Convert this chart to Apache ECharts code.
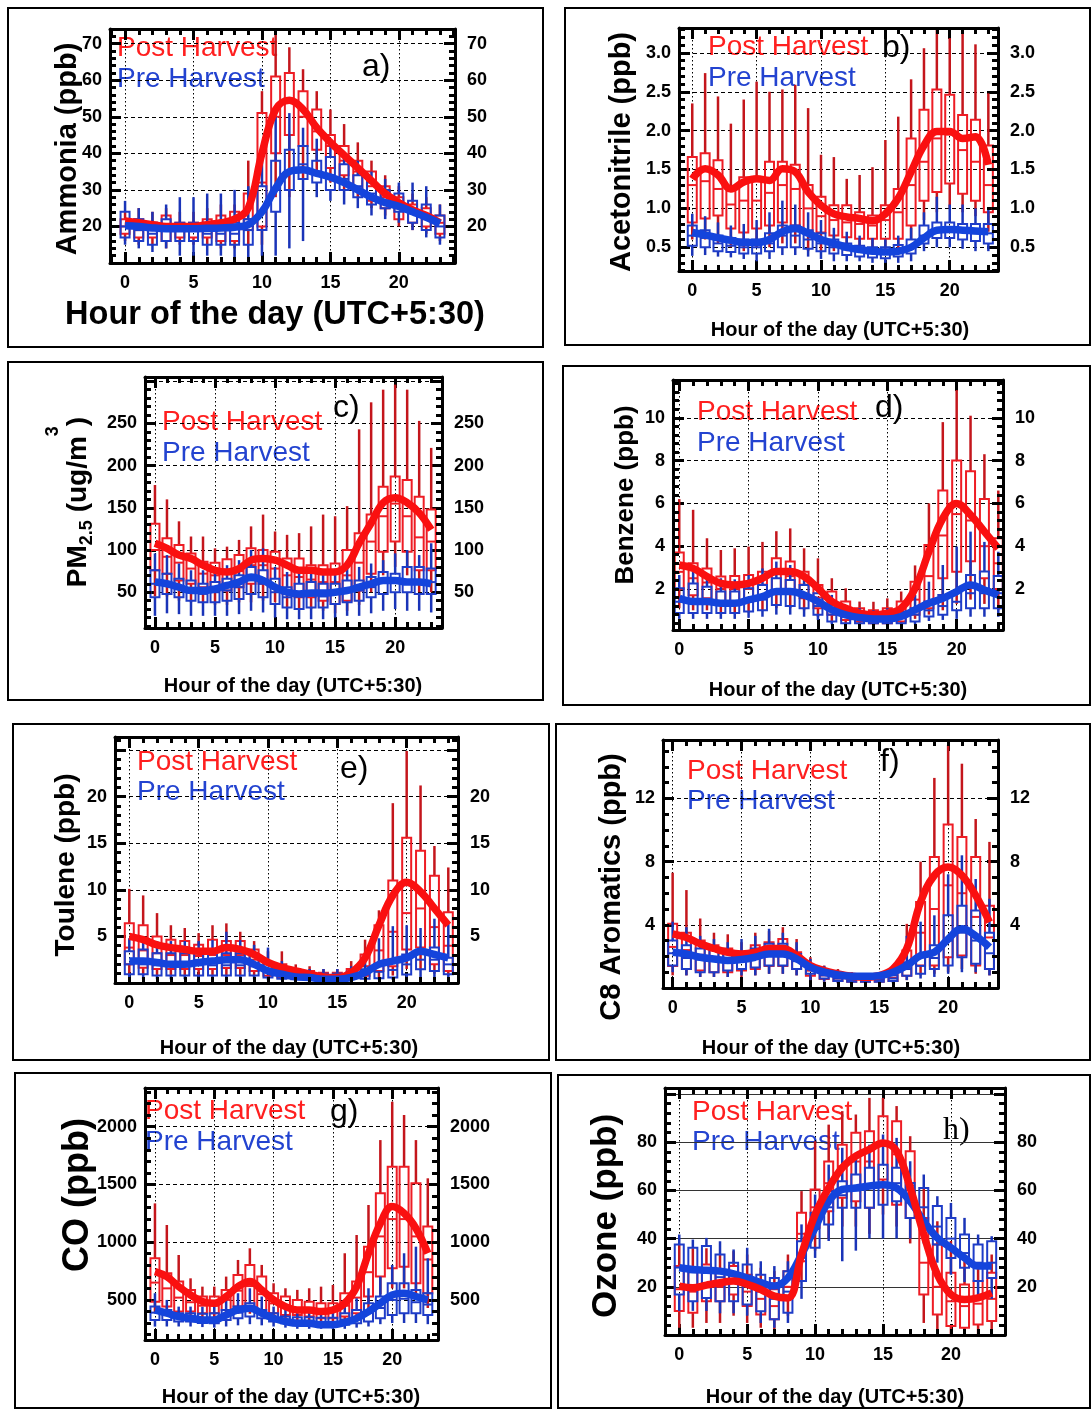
<!DOCTYPE html>
<html>
<head>
<meta charset="utf-8">
<script src="https://cdn.jsdelivr.net/npm/echarts@6/dist/echarts.min.js"></script>
<style>
  html, body { margin: 0; padding: 0; background: #fff; }
  #chart { width: 1091px; height: 1409px; }
</style>
</head>
<body>
<div id="chart"></div>
<script>
// ---- data: hourly box stats [low whisker, q1, median, q3, high whisker] and hourly means ----
let hours = [0,1,2,3,4,5,6,7,8,9,10,11,12,13,14,15,16,17,18,19,20,21,22,23];
let xTickLabels = [0,5,10,15,20];

let ammoniaTicks = [20,30,40,50,60,70];
let ammoniaPost = [[16,18,20,22,24],[15,17,19,22,25],[15,17,19,21,24],[14,16,19,23,25],[15,17,19,21,24],[15,17,19,21,24],
  [15,17,19,22,25],[14,16,19,23,26],[14,16,20,24,26],[15,19,22,29,38],[15,20,32,51,57],[28,40,50,61,73],
  [28,45,54,62,69],[33,42,50,57,63],[34,41,46,52,57],[32,36,42,45,52],[30,34,38,42,48],[28,30,35,38,43],
  [25,27,31,35,38],[23,25,28,31,34],[20,22,25,28,31],[19,21,24,26,29],[18,20,22,25,28],[16,18,21,23,26]];
let ammoniaPostMean = [21.5,21,20.5,20,20,20,20.5,21,22,25,40,52,54.5,52,47,43,39.5,36,32.5,29,26.5,24.5,23,21];
let ammoniaPre = [[15,17,20,24,27],[14,16,19,22,25],[13,15,18,21,24],[14,16,19,22,26],[12,16,19,21,28],[12,16,19,21,28],
  [12,15,18,21,29],[12,15,18,21,29],[11,15,18,21,30],[10,15,19,22,31],[12,19,24,31,38],[12,24,30,38,50],
  [14,30,35,41,51],[16,33,37,42,47],[28,32,35,38,44],[27,30,34,39,42],[26,30,33,37,40],[25,28,31,34,38],
  [23,26,29,32,35],[22,25,27,30,33],[21,24,26,29,32],[19,21,24,27,32],[17,19,22,26,31],[15,17,20,23,26]];
let ammoniaPreMean = [20.2,20,19.6,19.4,19.4,19.4,19.5,19.6,19.8,20.5,24,30.5,35,35.5,34.5,33.5,32,30,28,26.5,25.5,24,22.5,20.8];

let acetoTicks = [0.5,1.0,1.5,2.0,2.5,3.0];
let acetoPost = [[0.6,0.82,1.3,1.66,2.35],[0.6,0.87,1.35,1.71,2.74],[0.55,0.91,1.25,1.62,2.44],[0.5,0.74,1.05,1.25,2.09],
  [0.45,0.69,1.1,1.4,2.4],[0.5,0.74,1.1,1.38,2.63],[0.5,0.78,1.2,1.6,2.5],[0.55,0.82,1.3,1.6,2.53],
  [0.55,0.78,1.25,1.56,2.59],[0.45,0.69,1.0,1.3,2.29],[0.45,0.69,0.9,1.15,1.69],[0.45,0.65,0.85,1.04,1.66],
  [0.45,0.63,0.82,1.04,1.38],[0.45,0.61,0.8,0.95,1.43],[0.45,0.61,0.78,0.91,1.53],[0.45,0.61,0.85,1.04,1.88],
  [0.45,0.61,0.95,1.25,2.18],[0.6,0.78,1.3,1.9,2.66],[0.85,1.1,1.6,2.27,3.06],[0.95,1.21,1.9,2.53,3.3],
  [1.0,1.32,1.95,2.46,3.19],[0.95,1.19,1.75,2.2,3.26],[0.9,1.1,1.6,2.14,3.11],[0.7,0.95,1.3,1.81,2.48]];
let acetoPostMean = [1.38,1.51,1.43,1.25,1.34,1.38,1.36,1.51,1.47,1.21,1.04,0.93,0.89,0.87,0.84,0.93,1.13,1.47,1.81,1.99,1.99,1.9,1.92,1.56];
let acetoPre = [[0.39,0.52,0.65,0.78,0.93],[0.4,0.5,0.62,0.72,0.9],[0.38,0.45,0.55,0.65,0.82],[0.37,0.44,0.52,0.62,0.78],
  [0.35,0.42,0.5,0.6,0.8],[0.32,0.42,0.5,0.6,0.85],[0.35,0.45,0.55,0.68,0.95],[0.4,0.5,0.65,0.78,1.1],
  [0.4,0.5,0.65,0.78,1.05],[0.38,0.48,0.6,0.72,0.95],[0.35,0.45,0.55,0.68,0.85],[0.32,0.42,0.5,0.6,0.75],
  [0.32,0.4,0.47,0.55,0.7],[0.32,0.38,0.45,0.52,0.65],[0.3,0.37,0.44,0.5,0.62],[0.3,0.36,0.43,0.5,0.6],
  [0.3,0.38,0.45,0.53,0.65],[0.32,0.42,0.5,0.6,0.75],[0.45,0.55,0.65,0.78,0.95],[0.5,0.62,0.72,0.82,1.15],
  [0.5,0.62,0.72,0.82,1.05],[0.48,0.6,0.7,0.8,1.05],[0.45,0.58,0.68,0.8,1.0],[0.45,0.55,0.68,0.8,0.98]];
let acetoPreMean = [0.69,0.66,0.62,0.59,0.56,0.56,0.6,0.7,0.74,0.68,0.6,0.55,0.5,0.47,0.45,0.44,0.45,0.5,0.62,0.72,0.73,0.72,0.71,0.7];

let pmTicks = [50,100,150,200,250];
let pmPost = [[45,76,100,131,177],[45,72,92,114,160],[40,64,85,106,134],[38,60,78,96,116],[38,56,72,86,116],[35,52,70,85,102],
  [35,52,72,89,104],[38,56,75,94,112],[38,60,82,102,128],[40,60,82,100,142],[38,56,78,98,122],[32,48,70,90,118],
  [30,44,68,90,120],[30,44,65,82,128],[28,40,62,82,142],[25,36,62,84,140],[28,40,70,100,152],[35,52,85,120,243],
  [50,72,110,142,275],[70,98,140,175,290],[80,110,155,187,296],[70,98,140,183,290],[50,76,115,163,253],[50,76,110,148,221]];
let pmPostMean = [108,102,94,90,82,76,74,78,88,90,88,82,76,76,74,74,82,108,132,156,162,156,144,124];
let pmPre = [[22,44,60,76,96],[25,48,58,72,94],[24,44,55,66,84],[22,40,50,64,76],[22,38,48,60,76],[22,38,50,62,80],
  [22,40,52,66,82],[24,42,56,70,88],[28,48,64,80,100],[26,44,60,76,102],[20,36,50,66,80],[18,32,44,56,74],
  [18,30,45,60,78],[18,32,46,62,80],[18,32,45,60,76],[20,36,48,60,78],[22,38,50,64,84],[22,40,52,64,80],
  [25,44,56,68,84],[28,48,62,74,88],[30,50,62,72,96],[28,50,64,80,100],[28,48,64,80,94],[26,48,62,78,108]];
let pmPreMean = [62,60,56,52,52,54,58,62,68,64,56,50,48,49,49,50,52,56,60,64,64,62,62,60];

let benzeneTicks = [2,4,6,8,10];
let benzenePost = [[1.1,2.0,2.8,3.7,6.2],[1.0,1.7,2.5,3.2,5.7],[1.0,1.56,2.3,2.96,4.37],[0.9,1.4,2.0,2.58,3.82],
  [0.9,1.4,2.0,2.6,3.9],[0.9,1.4,2.0,2.65,3.98],[1.0,1.56,2.2,2.8,4.2],[1.1,1.88,2.7,3.43,4.7],
  [1.1,1.88,2.6,3.28,4.83],[1.0,1.56,2.2,2.8,3.9],[0.7,1.1,1.6,2.19,3.43],[0.5,0.79,1.3,1.88,2.5],
  [0.4,0.55,0.9,1.41,2.03],[0.35,0.48,0.75,1.1,1.41],[0.3,0.4,0.7,1.0,1.4],[0.3,0.4,0.75,1.1,1.56],
  [0.35,0.48,0.9,1.41,1.88],[0.6,0.79,1.5,2.34,3.1],[0.8,1.1,2.6,4.05,6.0],[1.0,2.5,4.5,6.6,9.8],
  [1.3,2.8,5.5,8.0,11.3],[1.5,3.3,5.2,7.5,10.1],[1.3,2.5,4.0,6.2,8.3],[1.0,2.0,3.2,4.37,6.6]];
let benzenePostMean = [3.12,2.96,2.58,2.26,2.19,2.26,2.5,2.81,2.81,2.58,2.03,1.41,1.1,0.87,0.79,0.87,1.1,2.03,3.74,5.3,6.0,5.46,4.68,3.9];
let benzenePre = [[0.6,0.87,1.4,2.03,2.65],[0.6,0.87,1.5,2.26,2.96],[0.6,0.87,1.4,2.1,2.5],[0.6,0.87,1.3,1.88,2.5],
  [0.6,0.87,1.3,1.88,2.45],[0.65,0.95,1.4,2.03,2.65],[0.7,1.0,1.5,2.19,2.96],[0.8,1.25,1.8,2.5,3.28],
  [0.8,1.2,1.8,2.42,3.12],[0.7,1.1,1.6,2.19,2.65],[0.55,0.79,1.2,1.8,2.19],[0.35,0.48,0.8,1.25,1.72],
  [0.3,0.4,0.7,1.0,1.25],[0.3,0.4,0.65,0.94,1.1],[0.3,0.4,0.6,0.87,1.0],[0.3,0.4,0.6,0.87,1.1],
  [0.3,0.4,0.65,0.94,1.25],[0.35,0.48,0.8,1.1,1.72],[0.5,0.71,1.0,1.41,2.34],[0.55,0.79,1.2,1.72,3.12],
  [0.6,1.0,1.4,1.88,3.98],[0.7,1.1,1.8,2.65,4.68],[0.7,1.1,1.8,2.81,4.2],[0.7,1.1,1.8,2.6,3.74]];
let benzenePreMean = [1.56,1.41,1.41,1.33,1.33,1.49,1.64,1.88,1.88,1.72,1.41,1.02,0.79,0.66,0.6,0.6,0.71,1.02,1.33,1.56,1.88,2.19,1.95,1.72];

let tolueneTicks = [5,10,15,20];
let toluenePost = [[0.9,2.0,3.8,6.4,10.1],[0.9,1.65,3.5,6.2,9.4],[0.8,1.5,3.2,5.0,7.5],[0.8,1.5,3.0,4.65,6.2],
  [0.8,1.5,3.0,4.5,5.9],[0.8,1.5,2.9,4.1,5.35],[0.8,1.5,3.0,4.65,6.2],[0.8,1.6,3.0,4.5,6.4],
  [0.8,1.6,3.0,4.5,5.5],[0.7,1.3,2.5,3.6,4.5],[0.5,0.77,1.5,2.2,3.4],[0.4,0.6,1.3,2.0,3.4],
  [0.4,0.6,1.0,1.5,2.0],[0.3,0.5,0.9,1.3,1.8],[0.3,0.45,0.8,1.1,1.5],[0.3,0.45,0.8,1.1,1.5],
  [0.3,0.5,1.0,1.5,2.35],[0.4,0.77,1.8,3.06,4.65],[0.6,1.3,3.5,6.2,7.8],[0.8,1.8,5.5,11.0,19.3],
  [1.5,3.6,7.5,15.6,24.9],[1.5,3.8,8.0,14.2,21.2],[1.0,2.0,6.0,11.5,14.7],[0.8,1.3,4.0,7.6,12.4]];
let toluenePostMean = [5.0,4.65,4.1,3.8,3.6,3.4,3.4,3.8,3.6,3.06,2.2,1.65,1.3,0.94,0.66,0.59,1.12,2.7,6.2,9.4,10.8,9.8,8.0,6.2];
let toluenePre = [[0.4,0.94,2.0,3.4,4.8],[0.4,0.94,2.0,3.6,5.0],[0.4,0.8,1.9,3.2,4.5],[0.4,0.8,1.9,3.2,4.5],
  [0.4,0.8,1.9,3.2,4.5],[0.4,0.8,1.9,3.2,4.5],[0.4,0.8,1.9,3.2,4.6],[0.4,0.8,1.9,3.2,5.5],
  [0.4,0.8,1.9,3.2,4.6],[0.4,0.8,1.8,3.06,4.1],[0.3,0.59,1.3,2.0,3.8],[0.3,0.45,0.9,1.47,2.35],
  [0.25,0.4,0.7,1.0,1.5],[0.25,0.4,0.7,1.0,1.5],[0.25,0.4,0.7,1.0,1.5],[0.25,0.4,0.7,1.0,1.5],
  [0.3,0.45,0.8,1.2,1.8],[0.3,0.45,1.0,1.47,2.7],[0.35,0.5,1.2,2.0,4.8],[0.35,0.6,1.4,2.35,6.1],
  [0.4,0.9,2.0,3.06,6.2],[0.5,1.47,2.5,3.4,5.9],[0.5,1.3,2.5,3.8,6.9],[0.4,0.94,2.0,2.7,6.6]];
let toluenePreMean = [2.35,2.35,2.2,2.0,2.0,2.2,2.35,2.5,2.5,2.0,1.3,0.94,0.66,0.59,0.41,0.41,0.59,1.12,2.0,2.35,2.7,3.4,3.06,2.7];

let c8Ticks = [4,8,12];
let c8Post = [[0.8,1.4,2.6,4.06,7.3],[0.8,1.2,2.4,3.5,6.2],[0.7,1.1,2.1,3.0,4.4],[0.7,1.0,1.9,2.7,3.5],
  [0.7,1.0,1.8,2.5,3.4],[0.7,1.1,1.7,2.26,2.9],[0.8,1.2,2.0,2.7,3.5],[0.9,1.4,2.2,2.9,3.6],
  [0.9,1.4,2.3,3.1,3.85],[0.8,1.2,1.8,2.26,3.1],[0.5,0.78,1.1,1.42,1.95],[0.4,0.57,0.8,1.1,1.42],
  [0.3,0.45,0.6,0.85,1.2],[0.3,0.4,0.55,0.75,1.0],[0.3,0.4,0.5,0.7,0.9],[0.3,0.4,0.55,0.75,1.0],
  [0.35,0.45,0.65,0.9,1.3],[0.5,0.78,1.5,2.37,4.06],[0.8,1.42,3.5,5.44,8.0],[0.9,1.42,5.0,8.3,13.3],
  [1.0,1.95,6.5,10.35,15.4],[1.2,2.05,6.0,9.56,14.2],[0.9,1.42,4.5,8.3,10.7],[0.8,1.2,3.2,5.2,9.25]];
let c8PostMean = [3.43,3.2,2.8,2.5,2.26,2.16,2.26,2.5,2.5,2.05,1.42,1.1,0.89,0.74,0.68,0.78,1.2,2.5,5.44,7.13,7.66,7.13,5.86,4.17];
let c8Pre = [[1.0,1.42,2.2,3.0,4.2],[0.8,1.2,1.9,2.7,3.85],[0.7,1.0,1.8,2.5,3.3],[0.7,1.0,1.8,2.5,3.1],
  [0.7,1.1,1.7,2.26,2.9],[0.8,1.2,1.75,2.26,3.1],[0.8,1.3,1.9,2.5,3.3],[0.9,1.42,2.1,2.8,3.75],
  [0.9,1.42,2.1,2.8,3.5],[0.8,1.2,1.7,2.16,2.9],[0.5,0.9,1.2,1.42,1.84],[0.4,0.6,0.8,1.1,1.4],
  [0.3,0.45,0.6,0.8,1.1],[0.3,0.4,0.5,0.7,0.9],[0.3,0.4,0.5,0.7,0.9],[0.3,0.4,0.5,0.7,0.9],
  [0.3,0.45,0.6,0.8,1.1],[0.5,0.78,1.2,1.63,3.3],[0.6,0.9,1.4,1.95,4.2],[0.7,1.2,1.9,2.7,4.6],
  [0.9,1.42,3.0,4.6,7.2],[1.0,1.95,3.5,5.2,8.4],[1.0,1.53,3.0,4.9,6.9],[0.8,1.2,2.2,3.5,5.65]];
let c8PreMean = [2.26,2.16,1.95,1.84,1.74,1.8,1.95,2.16,2.16,1.84,1.31,1.0,0.83,0.74,0.74,0.78,1.0,1.42,2.05,2.26,3.1,3.75,3.3,2.58];

let coTicks = [500,1000,1500,2000];
let coPost = [[385,485,650,860,1336],[380,442,600,730,1149],[350,399,520,659,889],[350,399,480,587,687],
  [340,385,450,529,615],[340,385,450,529,615],[360,413,500,587,702],[380,442,580,716,846],
  [380,442,620,803,947],[360,413,550,702,803],[340,385,470,558,644],[320,370,450,529,601],
  [320,370,430,500,587],[310,356,420,485,601],[300,341,410,471,615],[300,341,410,471,630],
  [310,356,450,558,904],[340,385,520,659,1062],[420,529,740,961,1322],[550,702,1050,1423,1884],
  [600,774,1200,1654,2216],[600,788,1200,1654,2101],[500,644,1050,1510,1884],[430,558,850,1135,1553]];
let coPostMean = [745,702,615,543,486,471,529,615,659,587,500,442,413,413,399,413,471,615,904,1163,1308,1250,1120,904];
let coPre = [[269,327,390,442,558],[270,327,370,413,500],[270,313,350,385,442],[270,313,345,385,442],
  [265,300,340,380,440],[260,298,340,385,500],[270,327,370,413,529],[280,341,390,442,558],
  [290,356,410,471,601],[280,341,380,413,529],[270,313,350,385,442],[260,298,330,356,413],
  [250,290,320,350,400],[250,290,320,350,400],[250,285,310,345,400],[250,285,310,345,420],
  [250,284,330,385,442],[260,298,350,413,514],[270,313,390,471,601],[290,341,430,529,702],
  [300,370,500,644,803],[300,385,510,644,904],[300,385,480,587,961],[290,370,460,558,860]];
let coPreMean = [413,385,356,341,327,327,370,413,428,385,341,313,298,298,284,284,304,341,399,471,543,558,529,500];

let ozoneTicks = [20,40,60,80];
let ozonePost = [[3,10,19,28.6,37.6],[3,9.2,18,26.5,36],[5,14,21,29.3,36],[5,14,20,26.5,33.4],
  [8,16.8,22,28.6,34.8],[5,12,18,25,33.4],[3,8.5,15,21.7,27.9],[2,6.5,12,19,26.5],
  [8,15.4,20,26.5,33.4],[22,30.6,42,50.7,59.7],[35,44.5,53,60.4,80.4],[40,51.4,63,72,87.3],
  [45,57,70,79,92.9],[45,55.5,72,83.9,91.5],[42,52.8,72,84.6,98.4],[50,64.5,80,90.8,98.4],
  [45,54,75,88.7,95],[38,48.6,62,76.3,82.5],[5,16.8,30,48.6,61],[2,8.5,20,37.6,47.2],
  [0,3.7,14,25.8,39],[0,3,12,21,30.6],[0,4.4,13,22.4,30],[1,5.8,15,25.8,33.4]];
let ozonePostMean = [20.3,19.6,20.7,21.7,22.4,21,18.9,16.1,15.4,33.4,50,61,69.4,74.2,77,79.7,76.3,61,41.7,25.1,16.8,14.7,15.4,17.5];
let ozonePre = [[10,16.8,28,37.6,41.7],[10,14,26,36.2,39.6],[10,15.4,27,36.9,40.3],[9,14,24,33.4,38.9],
  [9,14,22,30,35.5],[8,12.7,21,29.3,36.2],[5,9.9,18,25,30.6],[3,6.5,15,23.7,28.6],
  [5,9.2,18,26.5,30.6],[15,22.4,32,38.9,45.9],[32,36.2,44,50.7,58.3],[39,45.9,53,59.7,70.7],
  [30.6,52.8,58,63.8,77.7],[35,52.8,60,66.6,75.6],[40,52.8,62,69.4,79],[40,54,63,70.7,83.2],
  [40,55.5,63,69.4,81.8],[40,48.6,55,63.1,72.1],[38,47.2,53,61,66.6],[30,37.6,45,53.5,57.6],
  [25,32,40,48.6,54.8],[22,27.9,34,41.7,48.6],[15,22.4,30,37.6,41.7],[15,23.7,30,38.9,41]];
let ozonePreMean = [27.9,27.2,26.9,26.5,25.4,23.7,21.7,20.3,23.7,33.4,44.5,55.5,60.4,61,61.8,62.4,61,55.5,47.2,40.3,36.2,32,28.6,28.6];

// ---- styles ----
let FONT = "'Liberation Sans', Arial, sans-serif";
let RED_BOX = '#ee1c24';
let RED_WHISKER = '#c4161c';
let RED_LINE = '#fa1010';
let BLUE_BOX = '#1e3cc8';
let BLUE_WHISKER = '#1a34b8';
let BLUE_LINE = '#1444dc';
let RED_TEXT = '#ff1f1f';
let BLUE_TEXT = '#2343d0';

// ---- panel layout ----
let panels = [
  { frame: [8, 8, 535, 339], grid: { left: 110, top: 29, width: 345, height: 234 }, x: [-1.1, 24.1], y: [10, 74],
    major: 10, minor: 2, ticks: ammoniaTicks, dec: 0,
    post: ammoniaPost, postMean: ammoniaPostMean, pre: ammoniaPre, preMean: ammoniaPreMean,
    title: 'Ammonia (ppb)', tx: 68, ty: 149, ts: 29, xt: [275, 315, 32.5], leg: [117, 48, 79], letter: ['a)', 362, 67] },
  { frame: [565, 8, 525, 337], grid: { left: 679, top: 28, width: 319, height: 243 }, x: [-1.03, 23.75], y: [0.195, 3.32],
    major: 0.5, minor: 0.1, ticks: acetoTicks, dec: 1,
    post: acetoPost, postMean: acetoPostMean, pre: acetoPre, preMean: acetoPreMean,
    title: 'Acetonitrile (ppb)', tx: 622, ty: 152, ts: 29, xt: [840, 330, 20], leg: [708, 47, 78], letter: ['b)', 882, 48] },
  { frame: [8, 362, 535, 338], grid: { left: 145, top: 377, width: 297, height: 251 }, x: [-0.83, 23.9], y: [7.6, 305],
    major: 50, minor: 10, ticks: pmTicks, dec: 0,
    post: pmPost, postMean: pmPostMean, pre: pmPre, preMean: pmPreMean,
    title: null, tx: 78, ty: 502, ts: 28, xt: [293, 686, 20], leg: [162, 422, 453], letter: ['c)', 333, 408] },
  { frame: [563, 366, 527, 339], grid: { left: 673, top: 380, width: 330, height: 250 }, x: [-0.45, 23.34], y: [0.08, 11.77],
    major: 2, minor: 0.4, ticks: benzeneTicks, dec: 0,
    post: benzenePost, postMean: benzenePostMean, pre: benzenePre, preMean: benzenePreMean,
    title: 'Benzene (ppb)', tx: 626, ty: 495, ts: 26, xt: [838, 690, 20], leg: [697, 412, 443], letter: ['d)', 875, 408] },
  { frame: [13, 724, 536, 336], grid: { left: 115, top: 737, width: 343, height: 246 }, x: [-1.03, 23.7], y: [0, 26.4],
    major: 5, minor: 1, ticks: tolueneTicks, dec: 0,
    post: toluenePost, postMean: toluenePostMean, pre: toluenePre, preMean: toluenePreMean,
    title: 'Toulene (ppb)', tx: 66, ty: 865, ts: 28, xt: [289, 1048, 20], leg: [137, 762, 792], letter: ['e)', 340, 769] },
  { frame: [556, 724, 534, 336], grid: { left: 663, top: 740, width: 335, height: 248 }, x: [-0.7, 23.62], y: [0, 15.7],
    major: 4, minor: 1, ticks: c8Ticks, dec: 0,
    post: c8Post, postMean: c8PostMean, pre: c8Pre, preMean: c8PreMean,
    title: 'C8 Aromatics (ppb)', tx: 612, ty: 887, ts: 29, xt: [831, 1048, 20], leg: [687, 771, 801], letter: ['f)', 880, 762] },
  { frame: [15, 1073, 536, 335], grid: { left: 145, top: 1088, width: 293, height: 252 }, x: [-0.84, 23.86], y: [153, 2335],
    major: 500, minor: 100, ticks: coTicks, dec: 0,
    post: coPost, postMean: coPostMean, pre: coPre, preMean: coPreMean,
    title: 'CO (ppb)', tx: 78, ty: 1195, ts: 36, xt: [291, 1397, 20], leg: [145, 1111, 1142], letter: ['g)', 330, 1112] },
  { frame: [558, 1075, 532, 333], grid: { left: 665, top: 1088, width: 340, height: 247 }, x: [-1.05, 23.98], y: [0, 102.5],
    major: 20, minor: 4, ticks: ozoneTicks, dec: 0, solidGrid: true, redTop: true, serifLetter: true,
    post: ozonePost, postMean: ozonePostMean, pre: ozonePre, preMean: ozonePreMean,
    title: 'Ozone (ppb)', tx: 606, ty: 1216, ts: 35, xt: [835, 1397, 20], leg: [692, 1112, 1142], letter: ['h)', 943, 1131] }
];

function boxRenderer(boxColor, whiskerColor) {
  return function (params, api) {
    let h = api.value(0);
    let lo = api.coord([h, api.value(1)]);
    let q1 = api.coord([h, api.value(2)]);
    let md = api.coord([h, api.value(3)]);
    let q3 = api.coord([h, api.value(4)]);
    let hi = api.coord([h, api.value(5)]);
    let x = lo[0];
    let half = 4.5;
    return {
      type: 'group',
      children: [
        { type: 'line', shape: { x1: x, y1: hi[1], x2: x, y2: q3[1] }, style: { stroke: whiskerColor, lineWidth: 2.5 } },
        { type: 'line', shape: { x1: x, y1: q1[1], x2: x, y2: lo[1] }, style: { stroke: whiskerColor, lineWidth: 2.5 } },
        { type: 'rect', shape: { x: x - half, y: q3[1], width: half * 2, height: q1[1] - q3[1] },
          style: { fill: 'none', stroke: boxColor, lineWidth: 2 } },
        { type: 'line', shape: { x1: x - half, y1: md[1], x2: x + half, y2: md[1] }, style: { stroke: boxColor, lineWidth: 2 } }
      ]
    };
  };
}

let tickLabelStyle = { fontFamily: FONT, fontWeight: 'bold', fontSize: 18, color: '#000' };
let frameLine = { show: true, onZero: false, lineStyle: { color: '#000', width: 3 } };
let noLine = { show: false, onZero: false };

function hasTick(list, v) {
  return list.some(t => Math.abs(t - v) < 1e-6);
}

let xAxes = [];
let yAxes = [];
let series = [];
let graphics = [];

panels.forEach((p, i) => {
  let grid = i;
  let majorTick = { show: true, inside: true, length: 11, lineStyle: { color: '#000', width: 3 } };
  let minorTick = { show: true, inside: true, length: 6, lineStyle: { color: '#000', width: 3 } };

  ['bottom', 'top'].forEach(pos => {
    xAxes.push({
      type: 'value', gridIndex: grid, position: pos, min: p.x[0], max: p.x[1], minInterval: 5, maxInterval: 5,
      axisLine: noLine, axisTick: majorTick,
      axisLabel: pos === 'bottom'
        ? Object.assign({ show: true, margin: 11, formatter: v => hasTick(xTickLabels, v) ? String(Math.round(v)) : '' }, tickLabelStyle)
        : { show: false },
      splitLine: { show: pos === 'bottom', lineStyle: { color: '#000', width: 1, type: [1.5, 2.5] } }
    });
    xAxes.push({
      type: 'value', gridIndex: grid, position: pos, min: p.x[0], max: p.x[1], minInterval: 1, maxInterval: 1, z: 10,
      axisLine: frameLine, axisTick: minorTick, axisLabel: { show: false }, splitLine: { show: false }
    });
  });

  ['left', 'right'].forEach(pos => {
    yAxes.push({
      type: 'value', gridIndex: grid, position: pos, min: p.y[0], max: p.y[1], minInterval: p.major, maxInterval: p.major,
      axisLine: noLine, axisTick: majorTick,
      axisLabel: Object.assign({ show: true, margin: pos === 'left' ? 8 : 12,
        formatter: v => hasTick(p.ticks, v) ? v.toFixed(p.dec) : '' }, tickLabelStyle),
      splitLine: {
        show: pos === 'left',
        lineStyle: p.solidGrid ? { color: '#333', width: 1, type: 'solid' } : { color: '#000', width: 1, type: [4, 3] }
      }
    });
    yAxes.push({
      type: 'value', gridIndex: grid, position: pos, min: p.y[0], max: p.y[1], minInterval: p.minor, maxInterval: p.minor, z: 10,
      axisLine: frameLine, axisTick: minorTick, axisLabel: { show: false }, splitLine: { show: false }
    });
  });

  let ax = { xAxisIndex: i * 4, yAxisIndex: i * 4 };
  series.push(Object.assign({
    type: 'custom', clip: true, silent: true, z: 2, encode: { x: 0, y: [1, 2, 3, 4, 5] },
    renderItem: boxRenderer(RED_BOX, RED_WHISKER),
    data: hours.map((h, k) => [h].concat(p.post[k]))
  }, ax));
  series.push(Object.assign({
    type: 'custom', clip: true, silent: true, z: 3, encode: { x: 0, y: [1, 2, 3, 4, 5] },
    renderItem: boxRenderer(BLUE_BOX, BLUE_WHISKER),
    data: hours.map((h, k) => [h].concat(p.pre[k]))
  }, ax));
  series.push(Object.assign({
    type: 'line', smooth: 0.4, showSymbol: false, silent: true, z: p.redTop ? 6 : 4,
    lineStyle: { color: RED_LINE, width: 7.5 }, itemStyle: { color: RED_LINE },
    data: hours.map((h, k) => [h, p.postMean[k]])
  }, ax));
  series.push(Object.assign({
    type: 'line', smooth: 0.4, showSymbol: false, silent: true, z: 5,
    lineStyle: { color: BLUE_LINE, width: 7.5 }, itemStyle: { color: BLUE_LINE },
    data: hours.map((h, k) => [h, p.preMean[k]])
  }, ax));

  // panel border
  graphics.push({ type: 'rect', shape: { x: p.frame[0], y: p.frame[1], width: p.frame[2], height: p.frame[3] },
    style: { fill: 'none', stroke: '#000', lineWidth: 2 }, z: 1 });

  // y title
  if (p.title) {
    graphics.push({ type: 'text', x: p.tx, y: p.ty, rotation: Math.PI / 2,
      style: { text: p.title, fontFamily: FONT, fontWeight: 'bold', fontSize: p.ts, fill: '#000', align: 'center', verticalAlign: 'middle' } });
  } else {
    graphics.push({ type: 'text', x: p.tx, y: p.ty, rotation: Math.PI / 2,
      style: {
        text: '{m|PM}{s|2.5}{m| (ug/m}{u|3}{m|)}', align: 'center', verticalAlign: 'middle',
        rich: {
          m: { fontFamily: FONT, fontWeight: 'bold', fontSize: p.ts, fill: '#000', lineHeight: 68 },
          s: { fontFamily: FONT, fontWeight: 'bold', fontSize: 18, fill: '#000', padding: [18, 0, 0, 0] },
          u: { fontFamily: FONT, fontWeight: 'bold', fontSize: 18, fill: '#000', verticalAlign: 'top' }
        }
      } });
  }

  // x title
  graphics.push({ type: 'text', x: p.xt[0], y: p.xt[1],
    style: { text: 'Hour of the day (UTC+5:30)', fontFamily: FONT, fontWeight: 'bold', fontSize: p.xt[2], fill: '#000', align: 'center', verticalAlign: 'middle' } });

  // legend text
  graphics.push({ type: 'text', x: p.leg[0], y: p.leg[1],
    style: { text: 'Post Harvest', fontFamily: FONT, fontSize: 28, fill: RED_TEXT, align: 'left', verticalAlign: 'middle' } });
  graphics.push({ type: 'text', x: p.leg[0], y: p.leg[2],
    style: { text: 'Pre Harvest', fontFamily: FONT, fontSize: 28, fill: BLUE_TEXT, align: 'left', verticalAlign: 'middle' } });

  // panel letter
  graphics.push({ type: 'text', x: p.letter[1], y: p.letter[2],
    style: { text: p.letter[0], fontFamily: p.serifLetter ? "'Liberation Serif', serif" : FONT, fontSize: 32, fill: '#000', align: 'left', verticalAlign: 'middle' } });
});

let chart = echarts.init(document.getElementById('chart'));
chart.setOption({
  animation: false,
  backgroundColor: '#fff',
  grid: panels.map(p => Object.assign({ containLabel: false }, p.grid)),
  xAxis: xAxes,
  yAxis: yAxes,
  series: series,
  graphic: { elements: graphics }
});
</script>
</body>
</html>
